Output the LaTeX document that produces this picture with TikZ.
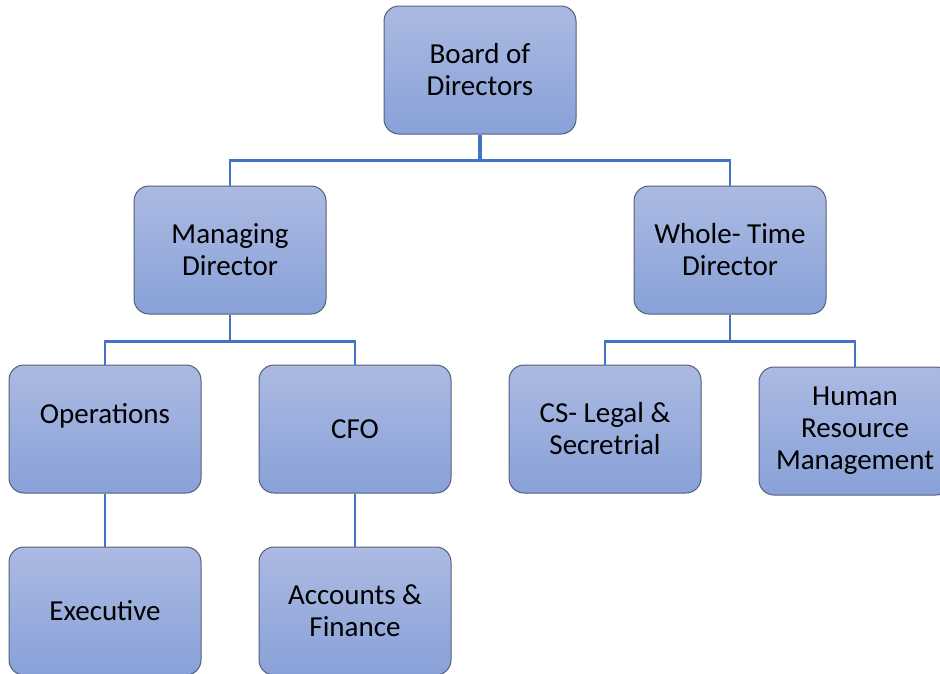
\documentclass[tikz,border=0pt]{standalone}
\usepackage{fontspec}
\setmainfont{Carlito}
\definecolor{boxtop}{RGB}{172,186,226}
\definecolor{boxbot}{RGB}{136,161,216}
\definecolor{boxline}{RGB}{85,95,120}
\definecolor{linkblue}{RGB}{68,114,196}
\begin{document}
\begin{tikzpicture}[x=1pt,y=-1pt,
  orgbox/.style={rectangle, rounded corners=15pt, draw=boxline, line width=1pt,
    top color=boxtop, bottom color=boxbot, minimum width=192pt, minimum height=128pt,
    inner sep=0pt, align=center, font=\fontsize{29}{32}\selectfont},
  link/.style={draw=linkblue, line width=2.5pt}]
\clip (0,0) rectangle (940,673);
\node (bod) at (480,70) [orgbox] {Board of\\Directors};
\node (md) at (230,250) [orgbox] {Managing\\Director};
\node (wtd) at (730,250) [orgbox] {Whole- Time\\Director};
\node (ops) at (105,429) [orgbox] {Operations\\\mbox{}};
\node (cfo) at (355,429) [orgbox] {CFO};
\node (cs) at (605,429) [orgbox] {CS- Legal \&\\Secretrial};
\node (hrm) at (855,431) [orgbox] {Human\\Resource\\Management};
\node (exec) at (105,611) [orgbox] {Executive};
\node (acc) at (355,611) [orgbox] {Accounts \&\\Finance};
\draw[link] (bod.south) -- ++(0,26) -| (md.north);
\draw[link] (bod.south) -- ++(0,26) -| (wtd.north);
\draw[link, line width=4pt] (bod.south) -- ++(0,26);
\draw[link] (md.south) -- ++(0,27) -| (ops.north);
\draw[link] (md.south) -- ++(0,27) -| (cfo.north);
\draw[link] (wtd.south) -- ++(0,27) -| (cs.north);
\draw[link] (wtd.south) -- ++(0,27) -| (hrm.north);
\draw[link] (ops.south) -- (exec.north);
\draw[link] (cfo.south) -- (acc.north);
\end{tikzpicture}
\end{document}
